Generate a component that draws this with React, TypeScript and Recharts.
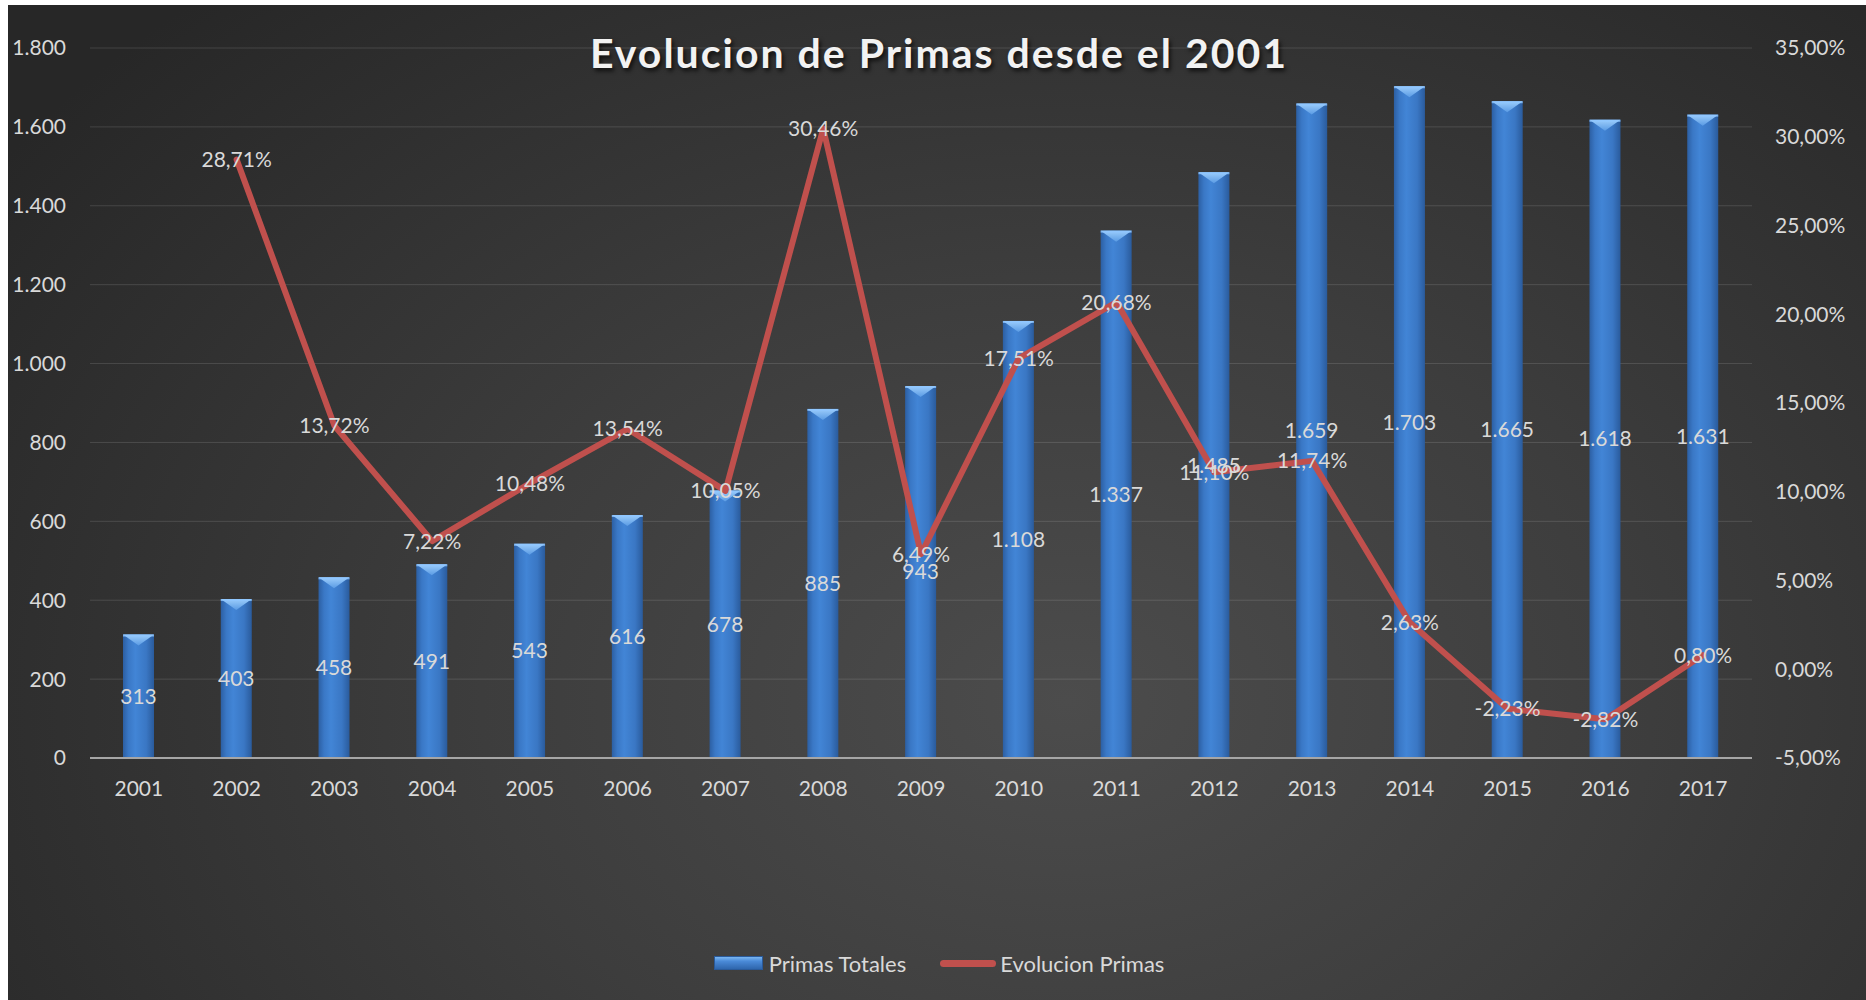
import { ComposedChart, Bar, Line, XAxis, YAxis, CartesianGrid, LabelList, Legend } from "recharts"

const years = ["2001", "2002", "2003", "2004", "2005", "2006", "2007", "2008", "2009", "2010", "2011", "2012", "2013", "2014", "2015", "2016", "2017"]
const primasTotales = [313, 403, 458, 491, 543, 616, 678, 885, 943, 1108, 1337, 1485, 1659, 1703, 1665, 1618, 1631]
// percent values, first year has no previous year
const evolucionPrimas = [null, 28.71, 13.72, 7.22, 10.48, 13.54, 10.05, 30.46, 6.49, 17.51, 20.68, 11.1, 11.74, 2.63, -2.23, -2.82, 0.8]
const leftTicks = [0, 200, 400, 600, 800, 1000, 1200, 1400, 1600, 1800]
const rightTicks = [-5, 0, 5, 10, 15, 20, 25, 30, 35]

const data = years.map((year, i) => ({
  year,
  primas: primasTotales[i],
  evolucion: evolucionPrimas[i],
}))

const fmtMiles = (v: any) => (v == null ? "" : String(v).replace(/\B(?=(\d{3})+(?!\d))/g, "."))
const fmtPct = (v: any) => (v == null ? "" : Number(v).toFixed(2).replace(".", ",") + "%")

const textColor = "#d9d9d9"
const W = 1858
const H = 995

const BevelBar = (props: any) => {
  const { x, y, width, height } = props
  if (!height || height <= 0) return null
  const bevel = Math.min(11, height / 2)
  return (
    <g>
      <rect x={x} y={y} width={width} height={height} fill="url(#barBody)" />
      <polygon points={`${x},${y} ${x + width},${y} ${x + width / 2},${y + bevel}`} fill="url(#barTop)" />
      <rect x={x} y={y} width={width} height={2} fill="#8fc6ff" opacity={0.8} />
    </g>
  )
}

const LegendContent = () => (
  <div
    style={{
      display: "flex",
      justifyContent: "center",
      alignItems: "center",
      height: 28,
      paddingLeft: 4,
      color: textColor,
      fontSize: 22,
    }}
  >
    <span
      style={{
        width: 49,
        height: 14,
        marginRight: 6,
        background: "linear-gradient(#7ab6f2 0%, #4a8ad8 35%, #2f66ad 100%)",
        border: "1px solid #2a5a9a",
        boxSizing: "border-box",
      }}
    />
    <span style={{ marginRight: 34 }}>Primas Totales</span>
    <span style={{ width: 56, height: 7, borderRadius: 4, background: "#c0504d", marginRight: 4 }} />
    <span>Evolucion Primas</span>
  </div>
)

export default function App() {
  return (
    <div
      style={{
        position: "absolute",
        left: 8,
        top: 5,
        width: W,
        height: H,
        fontFamily: "Lato, 'Open Sans', sans-serif",
        background: "radial-gradient(ellipse 70% 95% at 57% 70%, #4c4c4c 0%, #3d3d3d 45%, #272727 100%)",
      }}
    >
      <div
        style={{
          position: "absolute",
          left: 0,
          width: W,
          top: 27,
          textAlign: "center",
          fontSize: 41,
          lineHeight: 1,
          fontWeight: 700,
          letterSpacing: 2,
          color: "#f2f2f2",
          textShadow: "2px 3px 4px rgba(0,0,0,0.7)",
          paddingLeft: 4,
          boxSizing: "border-box",
        }}
      >
        Evolucion de Primas desde el 2001
      </div>
      <ComposedChart width={W} height={H} data={data} margin={{ top: 43, right: 0, left: 0, bottom: 182 }}>
        <defs>
          <linearGradient id="barBody" x1="0" y1="0" x2="1" y2="0">
            <stop offset="0%" stopColor="#2c5fa3" />
            <stop offset="18%" stopColor="#3a78c6" />
            <stop offset="40%" stopColor="#4285d6" />
            <stop offset="75%" stopColor="#3a77c4" />
            <stop offset="100%" stopColor="#2a5b9c" />
          </linearGradient>
          <linearGradient id="barTop" x1="0" y1="0" x2="0" y2="1">
            <stop offset="0%" stopColor="#9ccdfb" />
            <stop offset="100%" stopColor="#5a9be4" />
          </linearGradient>
        </defs>
        <CartesianGrid vertical={false} stroke="rgba(255,255,255,0.13)" yAxisId="left" />
        <XAxis
          dataKey="year"
          height={60}
          axisLine={{ stroke: "#a6a6a6", strokeWidth: 2 }}
          tickLine={false}
          tickSize={0}
          tickMargin={23}
          tick={{ fill: textColor, fontSize: 21 }}
        />
        <YAxis
          yAxisId="left"
          width={82}
          domain={[0, 1800]}
          ticks={leftTicks}
          axisLine={false}
          tickLine={false}
          tickSize={0}
          tickMargin={24}
          tickFormatter={fmtMiles}
          tick={{ fill: textColor, fontSize: 21 }}
        />
        <YAxis
          yAxisId="right"
          orientation="right"
          width={114}
          domain={[-5, 35]}
          ticks={rightTicks}
          axisLine={false}
          tickLine={false}
          tickSize={0}
          tickMargin={23}
          tickFormatter={fmtPct}
          tick={{ fill: textColor, fontSize: 21 }}
        />
        <Bar yAxisId="left" dataKey="primas" name="Primas Totales" barSize={31} shape={BevelBar} isAnimationActive={false}>
          <LabelList dataKey="primas" position="center" formatter={fmtMiles} fill={textColor} fontSize={21} />
        </Bar>
        <Line
          yAxisId="right"
          type="linear"
          dataKey="evolucion"
          name="Evolucion Primas"
          stroke="#c0504d"
          strokeWidth={6}
          strokeLinejoin="round"
          strokeLinecap="round"
          dot={false}
          activeDot={false}
          isAnimationActive={false}
        >
          <LabelList dataKey="evolucion" position="center" formatter={fmtPct} fill={textColor} fontSize={21} />
        </Line>
        <Legend verticalAlign="middle" align="center" wrapperStyle={{ top: 944, left: 0, width: W }} content={LegendContent} />
      </ComposedChart>
    </div>
  )
}
